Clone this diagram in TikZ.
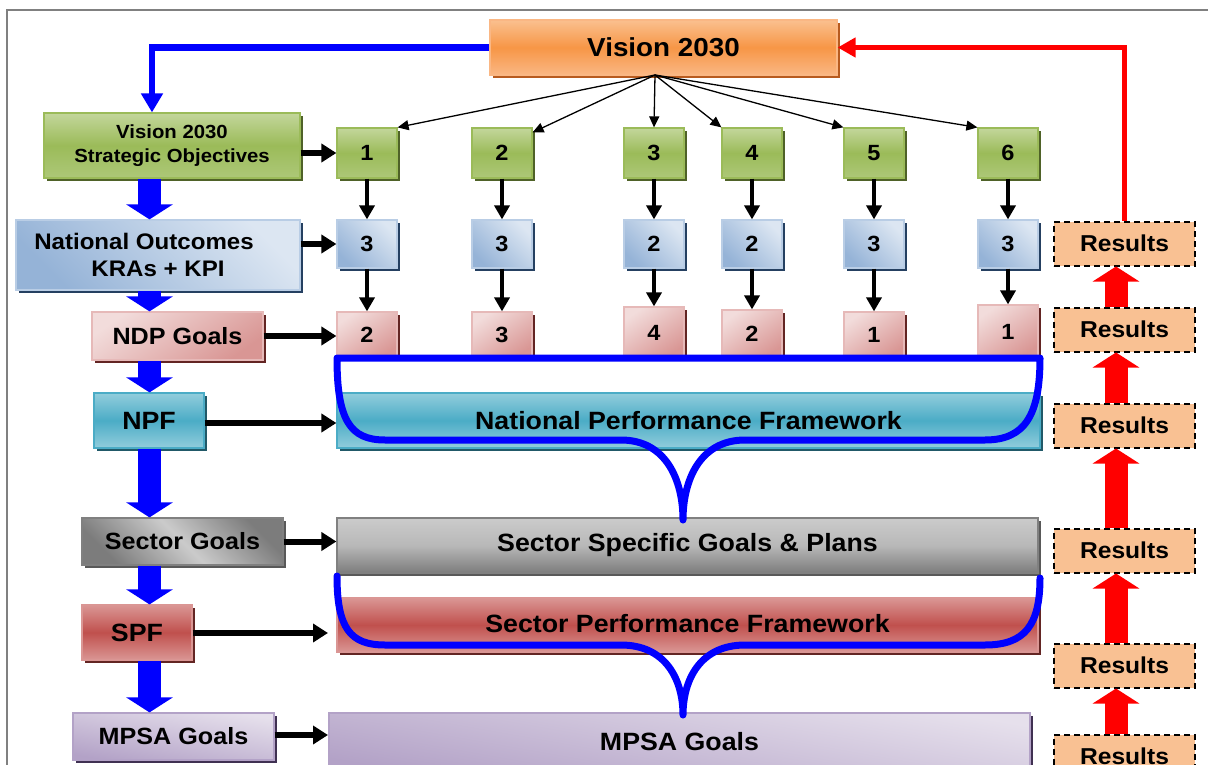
\documentclass[tikz,border=0pt]{standalone}
\usepackage{fontspec}
\setmainfont{Liberation Sans}[FakeStretch=1.07]
\usetikzlibrary{arrows.meta,shadows,calc}
\definecolor{orT}{HTML}{FAC08F}\definecolor{orM}{HTML}{F79646}\definecolor{orB}{HTML}{FAB784}\definecolor{orS}{HTML}{B85B1F}
\definecolor{grT}{HTML}{C3D69B}\definecolor{grM}{HTML}{9BBB59}\definecolor{grB}{HTML}{ADC878}\definecolor{grS}{HTML}{4F6228}
\definecolor{blT}{HTML}{95B3D7}\definecolor{blB}{HTML}{DCE6F2}\definecolor{blD}{HTML}{B9CDE5}\definecolor{blS}{HTML}{254061}
\definecolor{pkT}{HTML}{D99694}\definecolor{pkB}{HTML}{F2DCDB}\definecolor{pkD}{HTML}{E6B9B8}\definecolor{pkS}{HTML}{632523}
\definecolor{tlT}{HTML}{92CDDC}\definecolor{tlM}{HTML}{4BACC6}\definecolor{tlS}{HTML}{215968}
\definecolor{gyL}{HTML}{CBCBCB}\definecolor{gyK}{HTML}{7C7C7C}\definecolor{gyM}{HTML}{B8B8B8}\definecolor{gyD}{HTML}{808080}\definecolor{gyS}{HTML}{595959}
\definecolor{rdT}{HTML}{DA9694}\definecolor{rdM}{HTML}{C0504D}\definecolor{rdS}{HTML}{632523}
\definecolor{lvT}{HTML}{B3A2C7}\definecolor{lvB}{HTML}{E6E0EC}\definecolor{lvS}{HTML}{403152}
\definecolor{resC}{HTML}{F9C193}
\definecolor{pureblue}{HTML}{0000FF}
\definecolor{purered}{HTML}{FF0000}
\begin{document}
\begin{tikzpicture}[x=1pt,y=-1pt,
  box/.style={draw, line width=1.2pt, inner sep=0pt, align=center, text=black},
  sh/.style={drop shadow={shadow xshift=3pt, shadow yshift=-3pt, opacity=1, fill=#1}},
  fs/.style={font=\bfseries\fontsize{#1}{#1}\selectfont},
  orbox/.style={box, draw=orB, top color=orT, bottom color=orB, middle color=orM, sh=orS},
  grbox/.style={box, draw=grM, top color=grT, bottom color=grB, middle color=grM, sh=grS},
  blbox/.style={box, draw=blD, top color=blT, bottom color=blB, shading angle=135, sh=blS},
  pkbox/.style={box, draw=pkD, top color=pkT, bottom color=pkB, shading angle=215, sh=pkS},
  tlbox/.style={box, draw=tlM, top color=tlT, bottom color=tlT, middle color=tlM, sh=tlS},
  gybox/.style={box, draw=gyD, top color=gyK, bottom color=gyK, middle color=gyL, shading angle=135, sh=gyS},
  gybar/.style={box, draw=gyD, top color=gyL, bottom color=gyK, middle color=gyM, sh=gyS},
  rdbox/.style={box, draw=rdT, top color=rdT, bottom color=rdT, middle color=rdM, sh=rdS},
  lvbox/.style={box, draw=lvT, top color=lvT, bottom color=lvB, shading angle=170, sh=lvS},
  numbox/.style={minimum width=60pt, fs=22},
  resbox/.style={draw=black, dash pattern=on 6pt off 4pt, line width=2pt, fill=resC, inner sep=0pt,
     minimum width=141pt, minimum height=44pt, fs=23},
  fan/.style={draw=black, line width=1.3pt, -{Triangle[width=10pt,length=11pt]}},
  vdown/.style={draw=black, line width=3.8pt, -{Triangle[width=15pt,length=14pt]}},
  harr/.style={draw=black, line width=6pt, -{Triangle[width=18pt,length=15pt]}},
  bluedown/.style={draw=pureblue, line width=23pt, -{Triangle[width=46pt,length=15pt]}},
  redup/.style={draw=purered, line width=23pt, -{Triangle[width=46pt,length=15pt]}},
  blueline/.style={draw=pureblue, line width=6.5pt, -{Triangle[width=21pt,length=19pt]}},
  redline/.style={draw=purered, line width=5.5pt, -{Triangle[width=19pt,length=18pt]}},
  brace/.style={draw=pureblue, line width=7pt, line join=round, line cap=round}
]
\useasboundingbox[fill=white] (0,0) rectangle (1208,765);
\draw[gray, line width=1.5pt] (7,766) -- (7,10) -- (1209,10);

% top
\node[orbox, minimum width=347pt, minimum height=55pt, fs=26] (vision) at (663.5,47.5) {Vision 2030};
\node[grbox, minimum width=256pt, minimum height=65pt, fs=19] (vso) at (172,145.5) {Vision 2030\\[5pt]Strategic Objectives};

% number rows
\foreach \i/\x/\g/\b in {1/367/1/3, 2/502/2/3, 3/654/3/2, 4/752/4/2, 5/874/5/3, 6/1008/6/3}{
  \node[grbox, numbox, minimum height=50pt] (g\i) at (\x,153) {\g};
  \node[blbox, numbox, minimum height=48pt] (b\i) at (\x,244) {\b};
}
\foreach \i/\x/\t/\v in {1/367/312/2, 2/502/312/3, 3/654/307/4, 4/752/310/2, 5/874/312/1, 6/1008/305/1}{
  \pgfmathsetmacro{\hh}{358-\t}
  \pgfmathsetmacro{\cy}{(358+\t)/2}
  \node[pkbox, numbox, minimum height=\hh pt] (p\i) at (\x,\cy) {\v};
}

% left column
\node[blbox, minimum width=284pt, minimum height=70pt, fs=22.5] (no) at (158,255) {\hspace*{-28pt}National Outcomes\\[5pt]KRAs + KPI};
\node[pkbox, minimum width=171pt, minimum height=48pt, fs=23.5] (ndp) at (177.5,336) {NDP Goals};
\node[tlbox, minimum width=110pt, minimum height=55pt, fs=25] (npf) at (149,420.5) {NPF};
\node[gybox, minimum width=201pt, minimum height=47pt, fs=23.5] (sg) at (182.5,541.5) {Sector Goals};
\node[rdbox, minimum width=110pt, minimum height=55pt, fs=25] (spf) at (137,632.5) {SPF};
\node[lvbox, minimum width=201pt, minimum height=47pt, fs=23.5] (mg) at (173.5,736.5) {MPSA Goals};

% bars
\node[tlbox, minimum width=703pt, minimum height=55pt, fs=25] (npfbar) at (688.5,420.5) {National Performance Framework};
\node[gybar, minimum width=701pt, minimum height=55pt, fs=25] (sgbar) at (687.5,545.5) {Sector Specific Goals \& Plans};
\node[rdbox, minimum width=701pt, minimum height=54pt, fs=25] (spfbar) at (687.5,625) {\raisebox{3pt}{Sector Performance Framework}};
\node[lvbox, minimum width=701pt, minimum height=58pt, fs=25] (mgbar) at (679.5,742) {\raisebox{2pt}{MPSA Goals}};

% results
\foreach \i/\y in {1/243.5, 2/329.5, 3/425.5, 4/550.5, 5/665.5, 6/756.5}{
  \node[resbox] (r\i) at (1124.5,\y) {Results};
}

% braces
\draw[brace] (337,358) -- (1040,358)
  .. controls (1040,415) and (1025,440) .. (985,440) -- (745,440)
  .. controls (700,440) and (683,480) .. (683,520)
  .. controls (683,480) and (666,440) .. (621,440) -- (385,440)
  .. controls (350,440) and (337,420) .. cycle;
\draw[brace] (337,576) .. controls (337,628) and (350,645) .. (385,645) -- (621,645)
  .. controls (666,645) and (683,680) .. (683,715)
  .. controls (683,680) and (700,645) .. (745,645) -- (985,645)
  .. controls (1025,645) and (1040,625) .. (1040,578);

% fan arrows
\coordinate (fanorg) at (655,75);
\draw[fan] (fanorg) -- (g1.north east);
\draw[fan] (fanorg) -- ([yshift=-5pt]g2.north east);
\draw[fan] (fanorg) -- (g3.north);
\draw[fan] (fanorg) -- (g4.north west);
\draw[fan] (fanorg) -- (g5.north west);
\draw[fan] (fanorg) -- (g6.north west);

% vertical arrows
\foreach \i in {1,...,6}{
  \draw[vdown] (g\i.south) -- (b\i.north);
  \draw[vdown] (b\i.south) -- (p\i.north);
}

% horizontal arrows
\draw[harr] (vso.east |- g1.west) -- (g1.west);
\draw[harr] (no.east |- b1.west) -- (b1.west);
\draw[harr] (ndp.east) -- (ndp.east -| p1.west);
\coordinate (npfy) at (0,423);
\draw[harr] (npf.east |- npfy) -- (npfbar.west |- npfy);
\draw[harr] (sg.east) -- (sg.east -| sgbar.west);
\coordinate (spfend) at (328,633);
\draw[harr] (spf.east |- spfend) -- (spfend);
\coordinate (mgend) at (328,735);
\draw[harr] (mg.east |- mgend) -- (mgend);

% blue block arrows
\coordinate (bx) at (149.5,0);
\draw[bluedown] (vso.south -| bx) -- (no.north -| bx);
\draw[bluedown] (no.south -| bx) -- (ndp.north -| bx);
\draw[bluedown] (ndp.south -| bx) -- (npf.north -| bx);
\draw[bluedown] (npf.south -| bx) -- (sg.north -| bx);
\draw[bluedown] (sg.south -| bx) -- (spf.north -| bx);
\draw[bluedown] (spf.south -| bx) -- (mg.north -| bx);

% red block arrows
\coordinate (rx) at (1116,0);
\foreach \a/\b in {2/1,3/2,4/3,5/4,6/5}{
  \draw[redup] (r\a.north -| rx) -- (r\b.south -| rx);
}

% feedback lines
\coordinate (bl) at (152,0);
\draw[blueline] (vision.west) -| (vso.north -| bl);
\draw[redline] (r1.north) |- (vision.east);
\end{tikzpicture}
\end{document}
